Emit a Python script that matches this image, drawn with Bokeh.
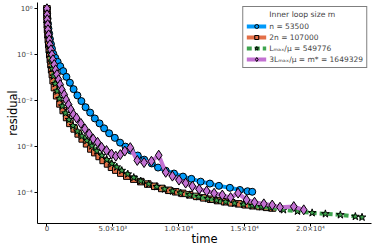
from bokeh.plotting import figure
from bokeh.models import Range1d, FixedTicker, Legend, LegendItem
from bokeh.embed import file_html
from bokeh.resources import INLINE

# ---- data ----
t_n = [0, 15, 45, 76, 114, 167, 227, 303, 379, 477, 629, 811, 1008, 1235, 1477, 1742, 2023, 2311,
       2614, 2932, 3280, 3636, 3992, 4341, 4720, 5152, 5553, 5962, 6364, 6894, 7386, 7955, 8432,
       9015, 9644, 10326, 10962, 11667, 12371, 13053, 13886, 14644, 15227, 15583]
r_n = [1.0, 0.78, 0.61, 0.47, 0.37, 0.29, 0.22, 0.17, 0.135, 0.105, 0.086, 0.070, 0.056, 0.044,
       0.033, 0.0246, 0.0178, 0.0130, 0.0098, 0.0072, 0.0055, 0.0041, 0.0032, 0.0025, 0.00195,
       0.00155, 0.00122, 0.00100, 0.00082, 0.00064, 0.00052, 0.00043, 0.00035, 0.00030, 0.00026,
       0.000223, 0.000199, 0.000173, 0.000157, 0.000140, 0.000127, 0.000114, 0.000107, 0.000104]

t_2n = [0, 8, 15, 30, 45, 76, 106, 136, 174, 212, 258, 303, 356, 409, 470, 568, 735, 985, 1235,
        1492, 1742, 2068, 2371, 2674, 3008, 3333, 3636, 3962, 4265, 4599, 4902, 5227, 5606, 6061,
        6591, 7121, 7652, 8182, 8712, 9242, 9773, 10303, 10833, 11364, 11894, 12424, 12955, 13485,
        14015, 14545, 15076, 15606, 16136, 16667, 17121]
r_2n = [1.0, 0.74, 0.58, 0.45, 0.35, 0.27, 0.21, 0.165, 0.128, 0.100, 0.078, 0.061, 0.047, 0.037,
        0.0272, 0.0192, 0.0128, 0.0085, 0.0061, 0.0043, 0.0032, 0.00243, 0.00189, 0.00147, 0.00115,
        0.00089, 0.00074, 0.00061, 0.00050, 0.00042, 0.000355, 0.000308, 0.000265, 0.000228,
        0.000196, 0.000173, 0.000153, 0.000137, 0.000123, 0.000112, 0.000104, 0.0000961,
        0.0000891, 0.0000826, 0.0000767, 0.0000715, 0.0000670, 0.0000631, 0.0000597, 0.0000568,
        0.0000541, 0.0000517, 0.0000497, 0.0000477, 0.0000461]

t_L = [0, 8, 30, 68, 114, 167, 235, 311, 402, 508, 629, 773, 947, 1159, 1402, 1667, 1970, 2311,
       2652, 3030, 3409, 3788, 4167, 4545, 4924, 5303, 5682, 6136, 6591, 7121, 7727, 8333, 8939,
       9545, 10152, 10833, 11515, 12197, 12879, 13561, 14242, 14924, 15606, 16288, 16970, 17955,
       19015, 20129, 21136, 22273, 23409, 23917]
r_L = [1.0, 0.687, 0.472, 0.324, 0.223, 0.153, 0.105, 0.0722, 0.0496, 0.0341, 0.0234, 0.0161,
       0.0110, 0.00759, 0.00535, 0.00386, 0.00286, 0.00217, 0.00169, 0.00135, 0.00103, 0.00080,
       0.00064, 0.00052, 0.000427, 0.000358, 0.000301, 0.000252, 0.000212, 0.000178, 0.000153,
       0.000134, 0.000119, 0.000107, 0.0000975, 0.0000891, 0.0000811, 0.0000737, 0.0000676,
       0.0000628, 0.0000585, 0.0000548, 0.0000517, 0.0000489, 0.0000465, 0.0000421, 0.0000392,
       0.0000362, 0.0000344, 0.0000327, 0.0000301, 0.0000290]

t_3L = [0, 8, 23, 53, 76, 129, 174, 227, 303, 379, 455, 553, 659, 758, 886, 1008, 1136, 1311, 1462,
        1644, 1818, 2008, 2250, 2576, 2879, 3205, 3508, 3841, 4144, 4523, 4902, 5227, 5568, 5909,
        6326, 6856, 7371, 7932, 8485, 9015, 9523, 10023, 10530, 11038, 11553, 12121, 12689, 13311,
        13939, 14508, 15152, 15758, 16463, 17099, 17690, 18735, 19493]
r_3L = [1.0, 0.74, 0.58, 0.45, 0.35, 0.27, 0.21, 0.165, 0.128, 0.100, 0.078, 0.061, 0.047, 0.037,
        0.0286, 0.0223, 0.0173, 0.0135, 0.0105, 0.0082, 0.0064, 0.0050, 0.0042, 0.0032, 0.00243,
        0.00189, 0.00147, 0.00124, 0.00097, 0.00082, 0.00069, 0.00062, 0.00067, 0.00080, 0.00095,
        0.00050, 0.00045, 0.00048, 0.00065, 0.000276, 0.000228, 0.000187, 0.000161, 0.000138,
        0.000118, 0.000108, 0.0000966, 0.0000883, 0.0000778, 0.0000975, 0.0000694, 0.0000615,
        0.0000568, 0.0000535, 0.0000479, 0.0000496, 0.0000421]

labels = ["n = 53500", "2n = 107000", "Lₘₐₓ/μ = 549776", "3Lₘₐₓ/μ = m* = 1649329"]
legend_title = "Inner loop size m"
x_title = "time"
y_title = "residual"
x_ticks = [0, 5000, 10000, 15000, 20000]
x_tick_labels = ["0", "5.0×10³", "1.0×10⁴", "1.5×10⁴", "2.0×10⁴"]
y_ticks = [1e-4, 1e-3, 1e-2, 1e-1, 1.0]
y_tick_labels = ["10⁻⁴", "10⁻³", "10⁻²", "10⁻¹", "10⁰"]

FONT = "DejaVu Sans"
X0, X1 = -717, 24635
Y0, Y1 = 2.123e-5, 1.368

p = figure(width=374, height=249, output_backend="svg", toolbar_location=None,
           x_range=Range1d(X0, X1), y_range=Range1d(Y0, Y1),
           y_axis_type="log", min_border_left=37, min_border_right=3,
           min_border_top=2, min_border_bottom=26,
           x_axis_label=x_title, y_axis_label=y_title)
p.outline_line_color = None
p.grid.visible = False

p.xaxis.ticker = FixedTicker(ticks=x_ticks)
p.xaxis.major_label_overrides = dict(zip(x_ticks, x_tick_labels))
p.yaxis.ticker = FixedTicker(ticks=y_ticks)
p.yaxis.major_label_overrides = dict(zip(y_ticks, y_tick_labels))
for ax in (p.xaxis[0], p.yaxis[0]):
    ax.major_tick_in = 0
    ax.major_tick_out = 3
    ax.minor_tick_in = 0
    ax.minor_tick_out = 0
    ax.axis_line_color = "black"
    ax.major_tick_line_color = "black"
    ax.major_label_text_font = FONT
    ax.major_label_text_font_size = "7px"
    ax.major_label_text_color = "#404040"
    ax.axis_label_text_font = FONT
    ax.axis_label_text_font_size = "11.5px"
    ax.axis_label_text_font_style = "normal"
    ax.axis_label_text_color = "black"
p.xaxis.major_label_standoff = -2
p.xaxis.axis_label_standoff = -4
p.yaxis.major_label_standoff = 2
p.yaxis.axis_label_standoff = -6

colors = ["#009AFA", "#E36F47", "#3EA44E", "#C371D2"]
series = [(t_n, r_n, "circle", 7, None), (t_2n, r_2n, "square", 6.5, None),
          (t_L, r_L, "star", 8, "5 3"), (t_3L, r_3L, "diamond", 10, None)]
items = []
for (tx, ry, mk, sz, dash), c, lab in zip(series, colors, labels):
    ln = p.line(tx, ry, line_color=c, line_width=4, line_dash=dash if dash else "solid")
    sc = p.scatter(tx, ry, marker=mk, size=sz, fill_color=c, line_color="black", line_width=1)
    items.append(LegendItem(label=lab, renderers=[ln, sc]))

legend = Legend(items=items, location="top_right", title="\u2003\u2003\u2003" + legend_title,
                border_line_color="black", border_line_width=1, background_fill_alpha=1,
                label_text_font=FONT, label_text_font_size="7.5px",
                title_text_font=FONT, title_text_font_size="7.7px", title_text_font_style="normal",
                padding=3, spacing=1, margin=4, label_height=10, glyph_height=10,
                glyph_width=20, label_standoff=3, title_standoff=2)
p.add_layout(legend)

open("out.html", "w").write(file_html(p, INLINE))
